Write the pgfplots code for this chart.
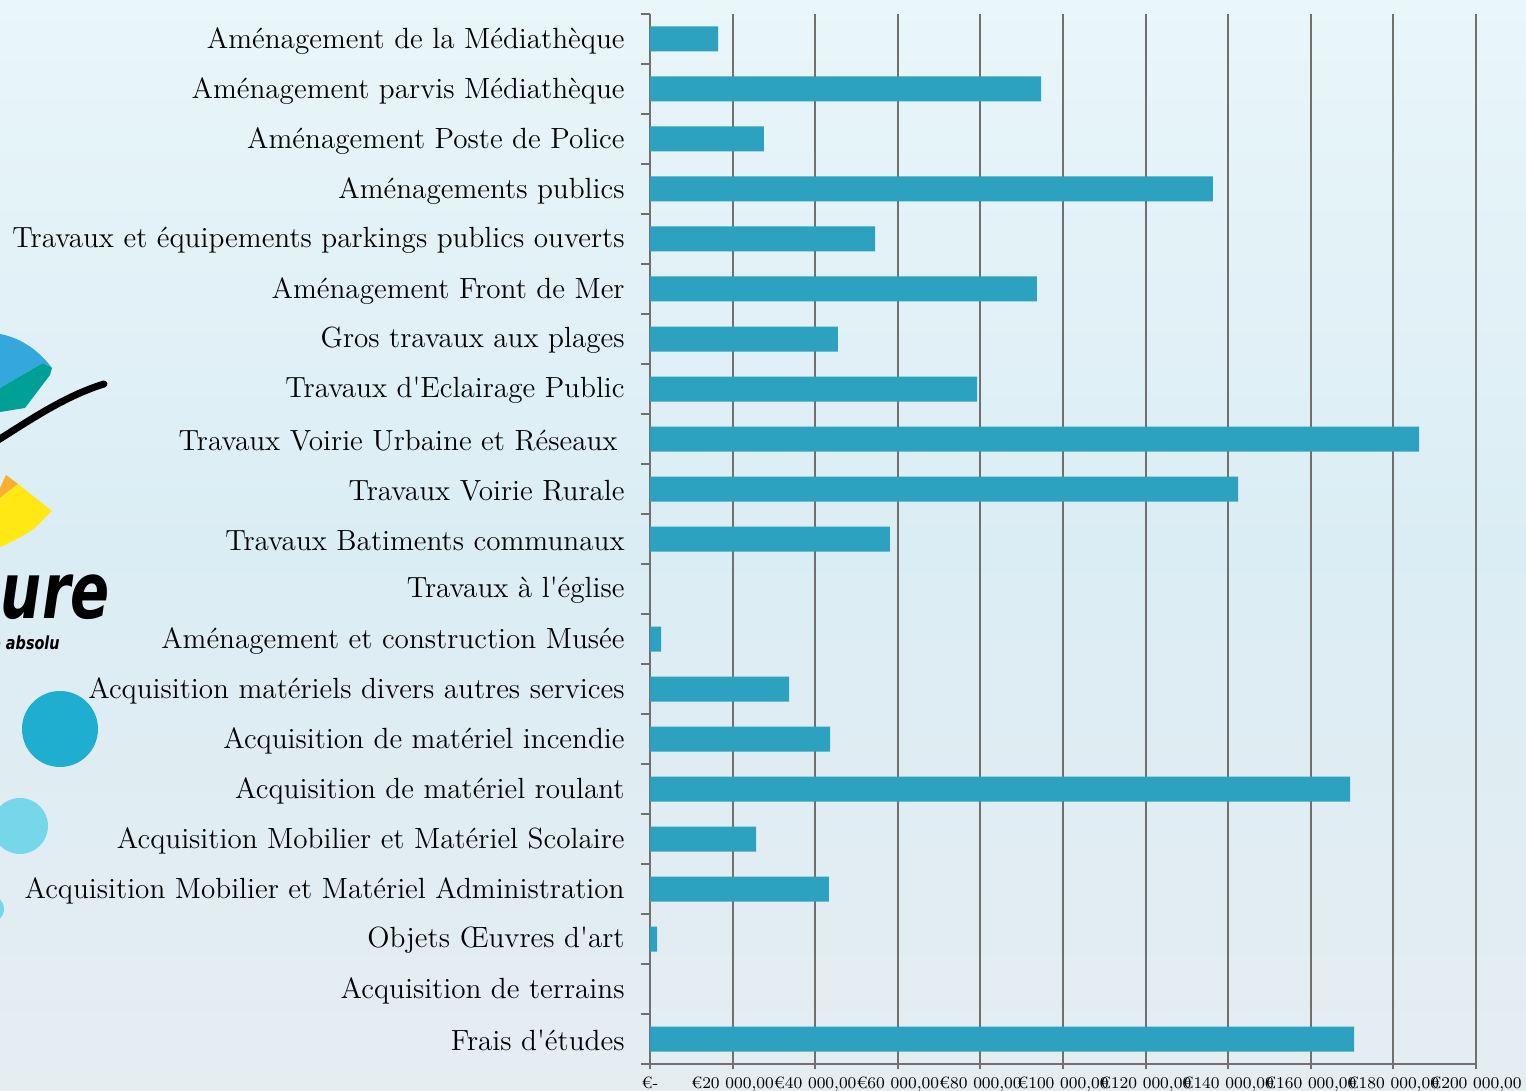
\documentclass[border=0pt]{standalone}
\usepackage{fontspec}
\usepackage{pgfplots}
\usepackage{pgfplotstable}
\pgfplotsset{compat=1.18}
\newfontfamily\logofont{DejaVu Sans}
\definecolor{barblue}{RGB}{44,162,192}
\definecolor{gridgray}{RGB}{112,112,112}
\definecolor{bgtop}{RGB}{233,246,250}
\definecolor{bgmid}{RGB}{219,237,244}
\definecolor{bgbot}{RGB}{229,237,241}
\definecolor{logoblue}{RGB}{52,168,220}
\definecolor{logoteal}{RGB}{0,160,150}
\definecolor{logoyellow}{RGB}{255,232,20}
\definecolor{logoorange}{RGB}{250,175,50}
\definecolor{circA}{RGB}{31,174,207}
\definecolor{circB}{RGB}{118,214,234}

\pgfplotstableread{
pos value
1 16500
2 94700
3 27600
4 136300
5 54500
6 93700
7 45500
8 79200
9 186200
10 142400
11 58100
12 0
13 2700
14 33700
15 43600
16 169500
17 25700
18 43300
19 1700
20 0
21 170500
}\budget

\begin{document}
\begin{tikzpicture}
\useasboundingbox (0,0) rectangle (763pt,545.5pt);
\shade[top color=bgtop, bottom color=bgbot, middle color=bgmid] (0,0) rectangle (763pt,545.5pt);
\begin{scope}[x=0.5pt,y=-0.5pt,shift={(0,545.5pt)}]
  \clip (0,0) rectangle (1526,1091);
  % logo fragments (decoration)
  \fill[logoblue] (0,334) .. controls (22,338) and (40,352) .. (52,368) -- (43,363) -- (0,388) -- cycle;
  \fill[logoteal] (0,388) -- (43,363) -- (52,368) -- (50,375) -- (25,408) -- (0,412) -- cycle;
  \draw[line width=3.5pt, black, line cap=round] (-5,442) .. controls (30,420) and (65,396) .. (104,384);
  \fill[logoorange] (0,488) -- (6,475) -- (18,484) -- (0,498) -- cycle;
  \fill[logoyellow] (0,498) -- (18,484) -- (52,511) -- (35,528) .. controls (20,538) and (10,543) .. (0,547) -- cycle;
  \node[anchor=base east, inner sep=0pt, xscale=0.74] at (110,619) {\fontsize{39}{40}\logofont\bfseries\itshape ure};
  \node[anchor=base east, inner sep=0pt, xscale=0.8] at (60,650) {\fontsize{9}{10}\logofont\bfseries\itshape e absolu};
  \fill[circA] (60,729) circle[radius=19pt];
  \fill[circB] (20,826) circle[radius=14pt];
  \fill[circB] (-10,909) circle[radius=7pt];
\end{scope}
\begin{axis}[
  at={(325pt,13.5pt)}, anchor=south west,
  scale only axis, width=413pt, height=525pt,
  xmin=0, xmax=200000, ymin=0.5, ymax=21.5,
  y dir=reverse,
  axis x line=bottom, axis y line=left,
  axis line style={-, draw=gridgray, line width=1pt},
  tick align=outside,
  xtick={0,20000,...,200000},
  xticklabels={€-, €20 000{,}00, €40 000{,}00, €60 000{,}00, €80 000{,}00, €100 000{,}00, €120 000{,}00, €140 000{,}00, €160 000{,}00, €180 000{,}00, €200 000{,}00},
  ytick={1,...,21},
  yticklabels={
    Aménagement de la Médiathèque,
    Aménagement parvis Médiathèque,
    Aménagement Poste de Police,
    Aménagements publics,
    Travaux et équipements parkings publics ouverts,
    Aménagement Front de Mer,
    Gros travaux aux plages,
    Travaux d\textquotesingle Eclairage Public,
    Travaux Voirie Urbaine et Réseaux\kern3.5pt\null,
    Travaux Voirie Rurale,
    Travaux Batiments communaux,
    Travaux à l\textquotesingle église,
    Aménagement et construction Musée,
    Acquisition matériels divers autres services,
    Acquisition de matériel incendie,
    Acquisition de matériel roulant,
    Acquisition Mobilier et Matériel Scolaire,
    Acquisition Mobilier et Matériel Administration,
    Objets Œuvres d\textquotesingle art,
    Acquisition de terrains,
    Frais d\textquotesingle études},
  minor ytick={0.5,1.5,...,21.5},
  major y tick style={draw=none},
  minor y tick style={draw=gridgray, line width=1pt},
  major x tick style={draw=gridgray, line width=1pt},
  major tick length=2.5pt,
  minor tick length=4.5pt,
  xmajorgrids,
  major grid style={draw=gridgray, line width=1pt},
  yticklabel style={font=\fontsize{14.6}{17}\selectfont, anchor=east, inner sep=0pt, xshift=-10pt, yshift=-0.8pt, text=black},
  xticklabel style={font=\fontsize{8.2}{9}\selectfont, anchor=north, inner sep=0pt, yshift=-3.8pt, text=black},
]
\addplot[xbar, bar width=12.5pt, fill=barblue, draw=none] table[x=value, y=pos]{\budget};
\end{axis}
\end{tikzpicture}
\end{document}
